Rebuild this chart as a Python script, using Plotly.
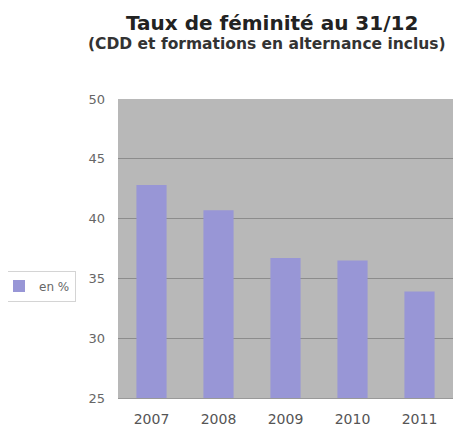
import plotly.graph_objects as go

years = ["2007", "2008", "2009", "2010", "2011"]
values = [42.8, 40.7, 36.7, 36.5, 33.9]
series_name = "en %"
y_ticks = [25, 30, 35, 40, 45, 50]

# page body adds an 8px offset; figure sized to fit the window
OFF = 8
W, H = 462 - OFF, 432 - OFF
L, T = 118 - OFF, 99 - OFF
R, B = W - (453 - OFF), H - (398 - OFF)
PW, PH = W - L - R, H - T - B


def px_x(x):
    return (x - OFF - L) / PW


def px_y(y):
    return (H - B - (y - OFF)) / PH


fig = go.Figure()
fig.add_trace(go.Bar(
    x=years, y=values, name=series_name,
    marker=dict(color="#9896d6", line=dict(width=0)),
    showlegend=True,
))

fig.update_layout(
    width=W, height=H,
    margin=dict(l=L, r=R, t=T, b=B, autoexpand=False),
    paper_bgcolor="white",
    plot_bgcolor="#b8b8b8",
    bargap=0.55,
    font=dict(family="DejaVu Sans", color="#555"),
    showlegend=True,
    legend=dict(
        xref="paper", yref="paper",
        x=px_x(-2), y=px_y(286), xanchor="left", yanchor="middle",
        bgcolor="rgba(0,0,0,0)",
        bordercolor="#d4d4d4", borderwidth=1,
        font=dict(size=12, color="#666", family="DejaVu Sans"),
        itemwidth=30,
    ),
    xaxis=dict(
        showgrid=False, ticks="", showline=True, linecolor="#999", linewidth=1,
        tickfont=dict(size=14, color="#555"), automargin=False,
        ticklabelstandoff=8,
    ),
    yaxis=dict(
        range=[25, 50], tickvals=y_ticks,
        showgrid=True, gridcolor="#8c8c8c", gridwidth=1,
        zeroline=False, showline=False,
        tickfont=dict(size=13, color="#666"),
        ticklabelstandoff=12, automargin=False,
    ),
    annotations=[
        dict(text="<b>Taux de féminité au 31/12</b>", xref="paper", yref="paper",
             x=px_x(272), y=px_y(23), xanchor="center", yanchor="middle",
             showarrow=False, font=dict(size=20, color="#222", family="DejaVu Sans")),
        dict(text="<b>(CDD et formations en alternance inclus)</b>", xref="paper", yref="paper",
             x=px_x(267), y=px_y(44), xanchor="center", yanchor="middle",
             showarrow=False, font=dict(size=15.5, color="#333", family="DejaVu Sans")),
    ],
)

fig.write_html("out.html")
